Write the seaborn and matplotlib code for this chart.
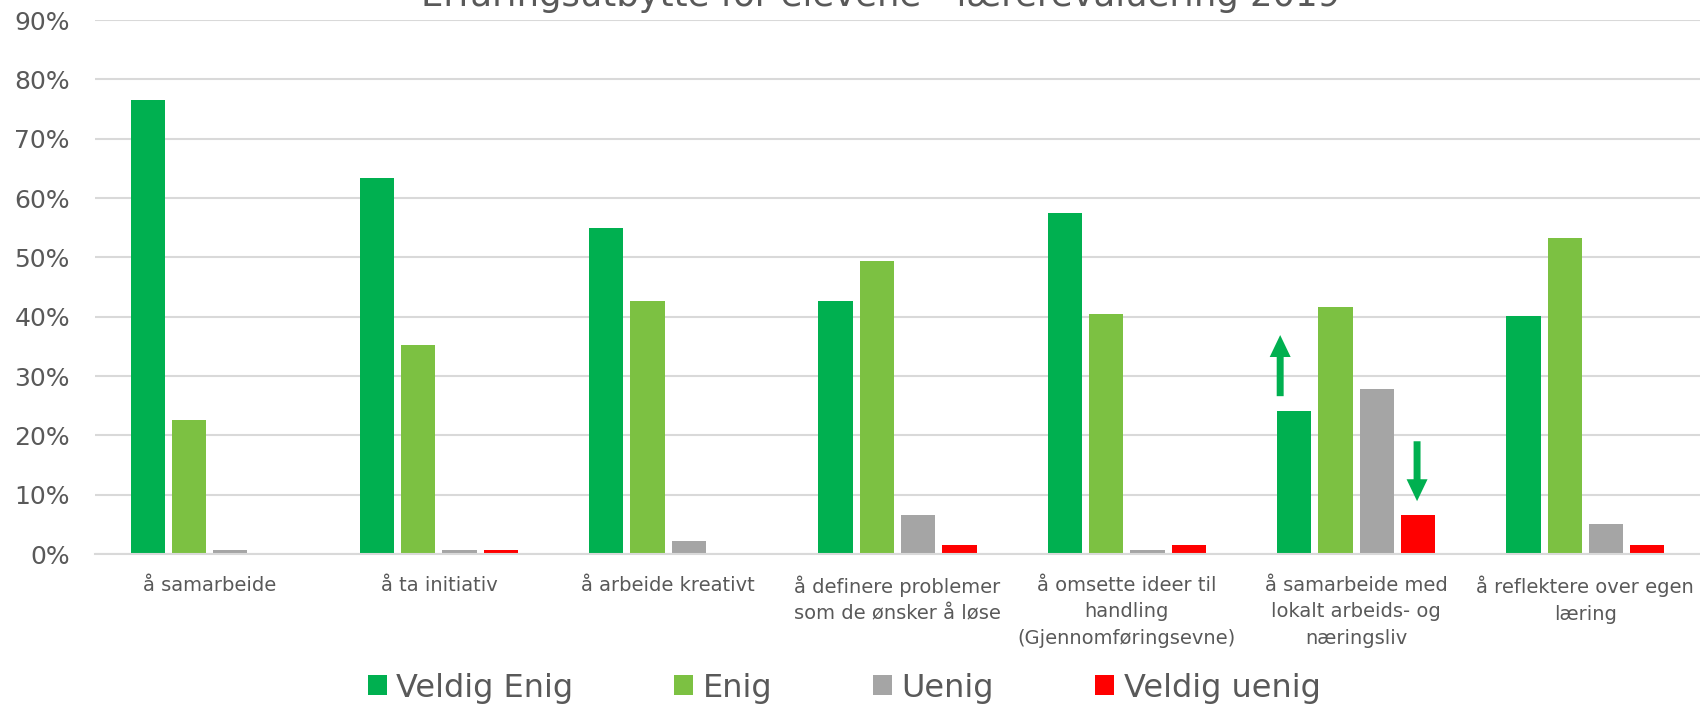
import matplotlib
matplotlib.use("Agg")
import matplotlib.pyplot as plt
import seaborn as sns
import pandas as pd
from matplotlib.patches import Patch
from matplotlib.ticker import FuncFormatter

# ---- data ----
categories = [
    "å samarbeide",
    "å ta initiativ",
    "å arbeide kreativt",
    "å definere problemer\nsom de ønsker å løse",
    "å omsette ideer til\nhandling\n(Gjennomføringsevne)",
    "å samarbeide med\nlokalt arbeids- og\nnæringsliv",
    "å reflektere over egen\nlæring",
]
series = ["Veldig Enig", "Enig", "Uenig", "Veldig uenig"]
veldig_enig = [76.6, 63.3, 55.0, 42.6, 57.4, 24.1, 40.1]
enig = [22.6, 35.3, 42.6, 49.3, 40.4, 41.6, 53.3]
uenig = [0.7, 0.7, 2.2, 6.6, 0.7, 27.8, 5.1]
veldig_uenig = [0.0, 0.7, 0.0, 1.5, 1.5, 6.6, 1.5]
colors = ["#00B050", "#7CC142", "#A5A5A5", "#FF0000"]
title = "Erfaringsutbytte for elevene - lærerevaluering 2019"
yticks = [0, 10, 20, 30, 40, 50, 60, 70, 80, 90]

# arrows (category index, x-offset, tail y, tip y)
arrows = [(5, -0.331, 26.6, 36.9), (5, 0.266, 19.0, 8.9)]

values = [veldig_enig, enig, uenig, veldig_uenig]
rows = []
for s, vals in zip(series, values):
    for c, v in zip(categories, vals):
        rows.append({"cat": c, "val": v, "series": s})
df = pd.DataFrame(rows)

sns.set_style("white")
plt.rcParams["font.family"] = ["DejaVu Sans"]
text_color = "#595959"
grid_color = "#D9D9D9"

fig = plt.figure(figsize=(17, 7.06), dpi=100)
ax = fig.add_axes([95 / 1700, 1 - 554 / 706, 1 - 95 / 1700, (554 - 20) / 706])

sns.barplot(data=df, x="cat", y="val", hue="series", order=categories,
            hue_order=series, palette=colors, width=0.72, gap=0.17,
            errorbar=None, linewidth=0, ax=ax, legend=False, saturation=1)

ax.set_ylim(0, 90)
ax.set_xlim(-0.5, len(categories) - 0.5)
ax.set_yticks(yticks)
ax.yaxis.set_major_formatter(FuncFormatter(lambda v, p: f"{int(v)}%"))
ax.grid(axis="y", color=grid_color, linewidth=1.5)
ax.set_axisbelow(True)
for sp in ["left", "right", "top"]:
    ax.spines[sp].set_visible(False)
ax.spines["bottom"].set_color(grid_color)
ax.spines["bottom"].set_linewidth(1.5)
ax.set_xlabel("")
ax.set_ylabel("")
ax.tick_params(axis="y", length=0, pad=18, labelsize=18, labelcolor=text_color)
ax.tick_params(axis="x", length=0, pad=15.5, labelsize=14, labelcolor=text_color)
for lab in ax.get_xticklabels():
    lab.set_linespacing(1.52)
    lab.set_horizontalalignment("center")

for ci, off, tail, tip in arrows:
    ax.annotate("", xy=(ci + off, tip), xytext=(ci + off, tail),
                arrowprops=dict(arrowstyle="simple,head_length=1.58,head_width=1.51,tail_width=0.5",
                                mutation_scale=10, color="#00B050", lw=0,
                                shrinkA=0, shrinkB=0))

fig.text(881 / 1700, 1 - 6 / 706, title, ha="center", va="baseline",
         fontsize=25.5, color=text_color)

handles = [Patch(facecolor=c, edgecolor="none") for c in colors]
leg = fig.legend(handles, series, loc="center", bbox_to_anchor=(844 / 1700, 1 - 688 / 706),
                 ncol=4, frameon=False, fontsize=23, handlelength=0.6, handleheight=0.6,
                 handletextpad=0.3, columnspacing=3.15, borderpad=0, borderaxespad=0)
for t in leg.get_texts():
    t.set_color(text_color)

fig.savefig("out.png", dpi=100)
